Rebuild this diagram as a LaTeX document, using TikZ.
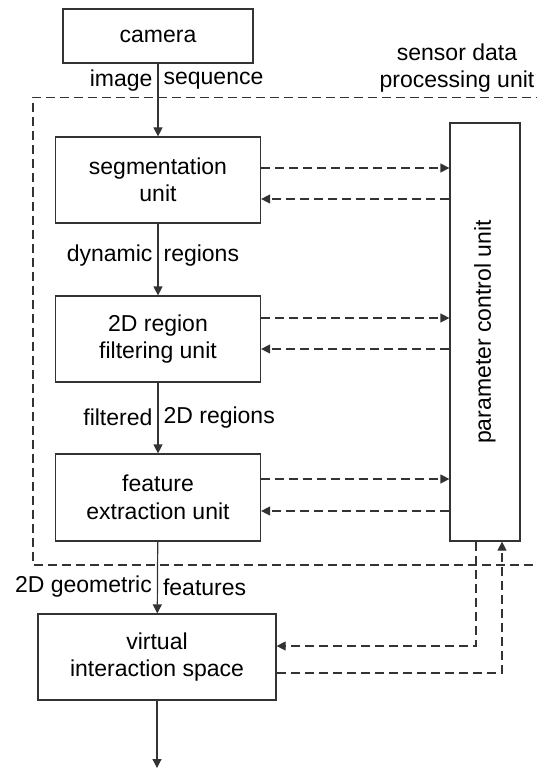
\documentclass[tikz,border=0pt]{standalone}
\usepackage{fontspec}
\setmainfont{Liberation Sans}
\usetikzlibrary{arrows.meta}

\begin{document}
\begin{tikzpicture}[x=1pt,y=-1pt,
    font=\fontsize{23}{27.5}\selectfont,
    line width=1.2pt,
    box/.style={draw=black!80,rectangle,align=center,minimum width=205,minimum height=86,inner sep=0pt},
    flow/.style={draw=black!80,-{Triangle[length=9pt,width=9pt]}},
    ctl/.style={draw=black!80,dashed,dash pattern=on 9pt off 5pt,-{Triangle[length=9pt,width=9pt]}},
    ctlline/.style={draw=black!80,dashed,dash pattern=on 9pt off 5pt},
    lbl/.style={inner sep=5pt}]
    \useasboundingbox (0,0) rectangle (537,770);

    % sensor data processing unit (open on the right)
    \draw[ctlline] (545,97.5) -- (33,97.5) -- (33,565) -- (545,565);
    \node[align=center,inner sep=1pt] (sdpu) at (457,68) {sensor data\\processing unit};

    % the chain of units
    \node[box,minimum width=190,minimum height=54] (cam) at (158,36) {camera};
    \node[box] (seg) at (158,180) {segmentation\\unit};
    \node[box] (flt) at (158,339) {2D region\\filtering unit};
    \node[box,minimum height=87] (fex) at (158,497.5) {feature\\extraction unit};
    \node[box,minimum width=238] (vis) at (157,657) {virtual\\interaction space};
    \coordinate (out) at (157,768);

    % parameter control unit
    \node[box,minimum width=70,minimum height=418] (pcu) at (485,332) {};
    \node[rotate=90] (pcutext) at (pcu.center) {parameter control unit};

    % data flow
    \draw[flow] (cam) -- node[pos=0.23,lbl,left] {image} node[pos=0.23,lbl,right] {sequence} (seg);
    \draw[flow] (seg) -- node[pos=0.44,lbl,left] {dynamic} node[pos=0.44,lbl,right] {regions} (flt);
    \draw[flow] (flt) -- node[pos=0.49,lbl,left] {filtered} node[pos=0.49,lbl,right] {2D regions} (fex);
    \draw[flow] (fex) -- node[pos=0.63,lbl,left] {2D geometric} node[pos=0.63,lbl,right] {features} (vis);
    \draw[flow] (vis) -- (out);

    % control loops to and from the parameter control unit
    \draw[ctl] ([yshift=12pt]seg.east) -- ([yshift=12pt]seg.east -| pcu.west);
    \draw[ctl] ([yshift=-19pt]seg.east -| pcu.west) -- ([yshift=-19pt]seg.east);
    \draw[ctl] ([yshift=21pt]flt.east) -- ([yshift=21pt]flt.east -| pcu.west);
    \draw[ctl] ([yshift=-10pt]flt.east -| pcu.west) -- ([yshift=-10pt]flt.east);
    \draw[ctl] ([yshift=18.5pt]fex.east) -- ([yshift=18.5pt]fex.east -| pcu.west);
    \draw[ctl] ([yshift=-13.5pt]fex.east -| pcu.west) -- ([yshift=-13.5pt]fex.east);
    \draw[ctl] ([xshift=-9pt]pcu.south) |- ([yshift=11pt]vis.east);
    \draw[ctl] ([yshift=-16pt]vis.east) -| ([xshift=17pt]pcu.south);
\end{tikzpicture}
\end{document}
